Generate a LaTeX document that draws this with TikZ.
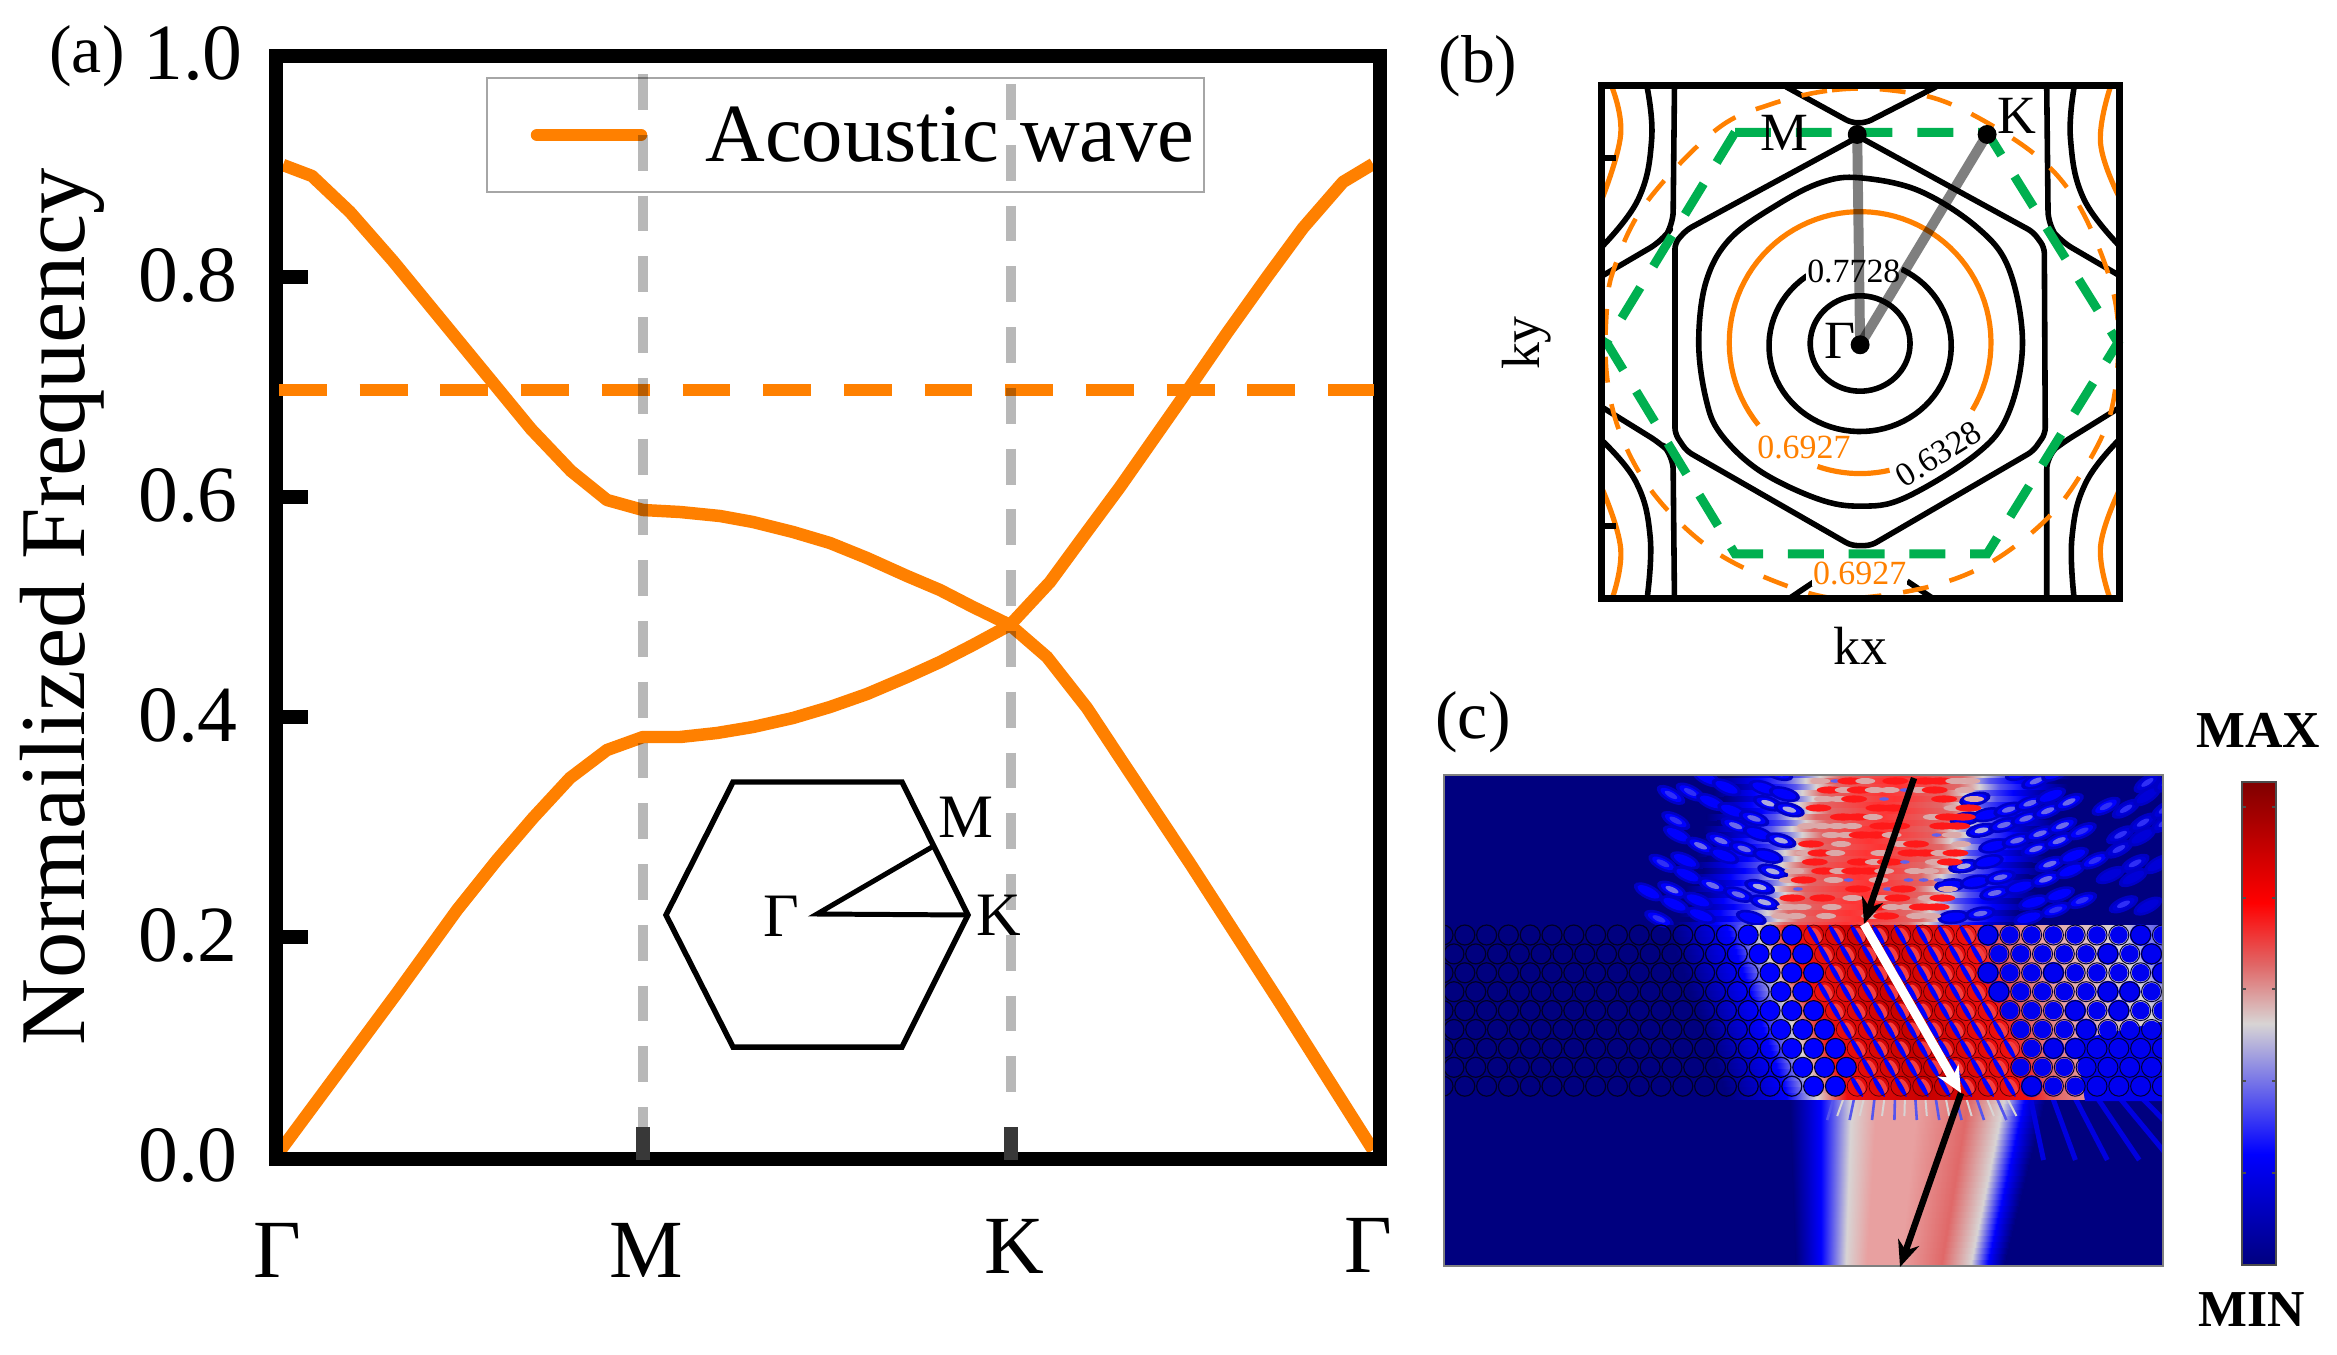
\documentclass[tikz,border=0pt]{standalone}
\usepackage{fontspec}
\setmainfont{Liberation Serif}
\usetikzlibrary{arrows.meta}
\newcommand{\fsz}[1]{\fontsize{#1}{#1}\selectfont}
\definecolor{orng}{HTML}{FF8000}
\definecolor{grn}{HTML}{00B050}
\definecolor{navyb}{HTML}{00007F}
\definecolor{blu}{HTML}{0000FF}
\definecolor{lgray}{HTML}{D8D4D4}
\definecolor{pnk}{HTML}{E8A0A0}
\definecolor{pnkb}{HTML}{E06868}
\definecolor{rd}{HTML}{F01010}
\definecolor{drd}{HTML}{C80000}
\pgfdeclarehorizontalshading{topbeam}{100bp}{color(0bp)=(navyb);color(25bp)=(navyb);color(31bp)=(blu);color(35bp)=(blu!60!lgray);color(38bp)=(lgray);color(41bp)=(pnkb);color(50bp)=(red!80!white);color(59bp)=(pnkb);color(62bp)=(lgray);color(65bp)=(blu!60!lgray);color(69bp)=(blu);color(75bp)=(navyb);color(100bp)=(navyb)}
\pgfdeclarehorizontalshading{lowbeam}{100bp}{color(0bp)=(navyb);color(25bp)=(navyb);color(31bp)=(blu);color(37bp)=(lgray);color(42bp)=(pnk);color(50bp)=(pnk);color(60bp)=(pnkb);color(67bp)=(lgray);color(71bp)=(blu);color(75bp)=(navyb);color(100bp)=(navyb)}
\pgfdeclarehorizontalshading{latbeam}{100bp}{color(0bp)=(navyb);color(25bp)=(navyb);color(31bp)=(blu);color(34bp)=(lgray);color(37bp)=(rd);color(45bp)=(drd);color(55bp)=(rd);color(58bp)=(pnkb);color(62bp)=(pnk);color(70bp)=(lgray);color(75bp)=(blu!70!lgray);color(100bp)=(blu!70!lgray)}
\pgfdeclareverticalshading{cbar}{100bp}{color(0bp)=(navyb);color(25bp)=(navyb);color(36.5bp)=(blu);color(44bp)=(blu!45!lgray);color(50bp)=(lgray);color(56bp)=(pnkb);color(62.5bp)=(red);color(68bp)=(drd);color(75bp)=(red!50!black);color(100bp)=(red!50!black)}
\tikzset{
 frameline/.style={line width=14.5,black,line join=miter},
 curve/.style={orng,line width=12.5,line join=round},
 vdash/.style={black,opacity=.28,line width=10.5,dash pattern=on 36 off 25},
 hdash/.style={orng,line width=13,dash pattern=on 48 off 33},
 tickm/.style={black,line width=14},
 bticks/.style={black!78,line width=14},
 inset/.style={black,line width=5.5,line join=miter},
 cont/.style={black,line width=5.6,line join=round},
 ocont/.style={orng,line width=5.2},
 odash/.style={orng,line width=4.6,dash pattern=on 26 off 22},
 gdash/.style={grn,line width=9,dash pattern=on 36 off 25},
 gpath/.style={black,opacity=.5,line width=10},
 dotb/.style={circle,fill=black,inner sep=0,minimum size=19},
 lab/.style={inner sep=0,outer sep=0},
 arb/.style={black,line width=6.5,-{Stealth[length=26,width=22]}},
 arw/.style={white,line width=9,-{Stealth[length=26,width=24]}},
}
\begin{document}
\begin{tikzpicture}[x=1bp,y=-1bp]
\useasboundingbox (0,0) rectangle (2337,1355);
\fill[white] (0,0) rectangle (2337,1355);
% ---------- panel a
\draw[gray!70,line width=1.5] (487,78) rectangle (1204,192);
\draw[curve,line cap=round] (537,135) -- (641,135);
\node[lab,anchor=base] (legtxt) at (950,162) {\fsz{83}Acoustic wave};
\draw[curve] plot coordinates {(283,165)(312,176)(350,212)(393,261)(531,429)(571,471)(607,500)(643,510)(680,512)(720,516)(753,522)(793,532)(830,543)(867,558)(907,576)(940,590)(973,607)(1010,625)(1047,657)(1087,708)(1120,758)(1191,865)(1280,1003)(1373,1150)};
\draw[curve] plot coordinates {(280,1151)(397,993)(457,910)(497,860)(533,818)(570,778)(607,750)(643,737)(680,737)(717,733)(753,727)(793,718)(830,707)(867,694)(907,677)(940,662)(973,645)(1010,625)(1050,582)(1083,537)(1120,487)(1183,397)(1227,333)(1267,277)(1303,228)(1343,182)(1373,164)};
\draw[frameline] (276,56) rectangle (1380,1159);
\foreach \yy in {277,497,717,937} \draw[tickm] (276,\yy) -- (308,\yy);
\draw[hdash] (279,390) -- (1374,390);
\coordinate (mtop) at (643,74); \coordinate (mbot) at (643,1127);
\coordinate (ktop) at (1011,84); \coordinate (kbot) at (1011,1097);
\draw[vdash] (mtop) -- (mbot);
\draw[vdash] (ktop) -- (kbot);
\draw[bticks] (643,1127) -- (643,1160);
\draw[bticks] (1011,1127) -- (1011,1160);
\node[lab] (t10) at (193,54) {\fsz{80}1.0};
\node[lab] (t08) at (188,276) {\fsz{80}0.8};
\node[lab] (t06) at (188,496) {\fsz{80}0.6};
\node[lab] (t04) at (188,716) {\fsz{80}0.4};
\node[lab] (t02) at (188,936) {\fsz{80}0.2};
\node[lab] (t00) at (188,1156) {\fsz{80}0.0};
\node[lab] (pa) at (87,56) {\fsz{68}(a)};
\node[lab,rotate=90,anchor=base] (ylab) at (84,607) {\fsz{93}Normailized Frequency};
\node[lab] (gl) at (277,1250) {\fsz{83}Γ};
\node[lab] (ml) at (646,1250) {\fsz{83}M};
\node[lab] (kl) at (1014,1246) {\fsz{83}K};
\node[lab] (gr) at (1368,1245) {\fsz{83}Γ};
% inset
\draw[inset] (733,782) -- (902,782) -- (968,915) -- (902,1047) -- (733,1047) -- (666,915) -- cycle;
\coordinate (ig) at (817,914); \coordinate (im) at (932,847); \coordinate (ik) at (968,915);
\draw[inset,line width=5] (im) -- (ig) -- (ik);
\node[lab] (ilg) at (781,916) {\fsz{62}Γ};
\node[lab] (ilm) at (966,817) {\fsz{62}M};
\node[lab] (ilk) at (999,915) {\fsz{62}K};
% ---------- panel b
\begin{scope}[shift={(1420,0)},x=0.4847bp,y=-0.4337bp]
\begin{scope}
\clip (375,198) rectangle (1443,1380);
\draw[cont] plot[domain=0:360,samples=72] ({908+103*cos(\x)},{792+110*sin(\x)});
\draw[cont] plot[domain=118:423,samples=72] ({908+188*cos(\x)},{797-198*sin(\x)});
\draw[ocont] plot[domain=-31:219,samples=72] ({908+270*cos(\x)},{790-302*sin(\x)});
\draw[ocont] plot[domain=251:283,samples=12] ({908+270*cos(\x)},{790-302*sin(\x)});
\draw[cont] plot[smooth cycle,tension=.6] coordinates {(908,410)(1030,440)(1150,525)(1215,620)(1243,790)(1215,950)(1150,1045)(1000,1148)(908,1167)(820,1150)(700,1085)(620,1000)(590,920)(575,790)(590,650)(640,550)(740,470)(830,420)};
\draw[cont,rounded corners=6] (905,315) -- (1265,535) -- (1288,570) -- (1290,1000) -- (1265,1040) -- (930,1258) -- (890,1258) -- (550,1040) -- (526,1000) -- (526,560) -- (550,530) -- cycle;
\draw[cont,rounded corners=6] (755,200) -- (890,283) -- (920,283) -- (1065,200);
\draw[cont,rounded corners=14] (1293,200) -- (1296,520) -- (1320,555) -- (1450,640);
\draw[cont,rounded corners=14] (1293,1385) -- (1293,1050) -- (1320,1025) -- (1450,935);
\draw[cont,rounded corners=14] (525,200) -- (522,520) -- (500,555) -- (370,640);
\draw[cont,rounded corners=14] (525,1385) -- (522,1050) -- (500,1025) -- (370,935);
\draw[cont] plot[smooth,tension=.7] coordinates {(468,198)(478,320)(450,460)(370,575)};
\draw[cont] plot[smooth,tension=.7] coordinates {(1350,198)(1342,320)(1370,460)(1450,575)};
\draw[cont] plot[smooth,tension=.7] coordinates {(468,1385)(475,1240)(445,1110)(370,1010)};
\draw[cont] plot[smooth,tension=.7] coordinates {(1350,1385)(1345,1240)(1375,1110)(1450,1005)};
\draw[ocont] plot[smooth,tension=.7] coordinates {(395,198)(414,310)(375,460)};
\draw[ocont] plot[smooth,tension=.7] coordinates {(1425,198)(1404,330)(1445,460)};
\draw[ocont] plot[smooth,tension=.7] coordinates {(375,1125)(414,1265)(395,1385)};
\draw[ocont] plot[smooth,tension=.7] coordinates {(1445,1125)(1404,1260)(1425,1385)};
\draw[cont] (755,1385) -- (815,1340);
\draw[cont] (1005,1340) -- (1065,1385);
\draw[odash] plot[smooth cycle,tension=.6] coordinates {(725,240)(850,208)(970,208)(1095,240)(1250,340)(1340,440)(1400,570)(1435,700)(1440,830)(1420,970)(1360,1100)(1290,1200)(1180,1295)(1060,1350)(910,1378)(810,1370)(660,1305)(560,1230)(470,1120)(410,990)(385,860)(385,720)(400,620)(465,470)(610,300)};
\end{scope}
\node[lab,fill=white,inner sep=1] (c1) at (895,625) {\fsz{34}0.7728};
\node[lab,fill=white,inner sep=1,text=orng] (c2) at (792,1032) {\fsz{34}0.6927};
\node[lab,fill=white,inner sep=1,rotate=32] (c3) at (1070,1047) {\fsz{34}0.6328};
\node[lab,fill=white,inner sep=1,text=orng] (c4) at (907,1322) {\fsz{34}0.6927};
\draw[gdash] (650,305) -- (1170,305) -- (1440,790) -- (1170,1277) -- (650,1277) -- (385,790) -- cycle;
\node[dotb] (gam) at (908,795) {};
\node[dotb] (mpt) at (902,310) {};
\node[dotb] (kpt) at (1170,310) {};
\draw[gpath] (gam.center) -- (mpt.center);
\draw[gpath] (gam.center) -- (kpt.center);
\node[lab] (bm) at (752,307) {\fsz{54}M};
\node[lab] (bk) at (1232,268) {\fsz{54}K};
\node[lab] (bg) at (866,785) {\fsz{54}Γ};
\draw[black,line width=7,line join=miter] (375,198) rectangle (1443,1380);
\draw[black,line width=6] (380,365) -- (405,365);
\draw[black,line width=6] (380,1212) -- (405,1212);
\end{scope}
\node[lab] (pb) at (1478,66) {\fsz{68}(b)};
\node[lab] (kx) at (1860,646) {\fsz{54}kx};
\node[lab,rotate=90] (ky) at (1527,343) {\fsz{54}ky};
% ---------- panel c
\fill[navyb] (1444,775) rectangle (2163,1266);
\begin{scope}
\clip (1444,775) rectangle (2163,1266);
% upper beam
\foreach \yy in {772,778,...,926}{
 \pgfmathsetmacro{\cc}{1894-(\yy-775)*.29+7*sin(mod(\yy,12)*30)}
 \shade[shading=topbeam] ({\cc-170},\yy) rectangle ({\cc+170},{\yy+6.5});
}
% side lobes
\pgfmathsetseed{7}
\foreach \R [count=\ri] in {360,376,...,660}{
 \foreach \a in {-48,-45,...,48}{
  \pgfmathsetmacro{\bx}{1890+\R*sin(\a)+(mod(\ri,2)*9)}
  \pgfmathsetmacro{\by}{400+\R*cos(\a)}
  \pgfmathsetmacro{\cc}{1894-(\by-775)*.29}
  \pgfmathsetmacro{\dd}{\bx-\cc}
  \pgfmathsetmacro{\ok}{(\by<920)&&(\by>770)&&(\dd>78)&&(\dd<330)?1:(((\by<920)&&(\by>770)&&(\dd<-78)&&(\dd>-230))?1:0)}
  \pgfmathsetmacro{\rr}{rnd}
  \ifdim\ok pt>0.5pt
   \ifdim\rr pt>0.3pt
    \pgfmathsetmacro{\kw}{abs(\dd)<230?100:70}
    \fill[blu!55!navyb,rotate around={\a:(\bx,\by)}] (\bx,\by) ellipse [x radius=16,y radius=7];
    \fill[blu!\kw!navyb,rotate around={\a:(\bx,\by)}] (\bx,\by) ellipse [x radius=12,y radius=4.5];
    \ifdim\rr pt>0.6pt
     \pgfmathsetmacro{\ww}{abs(\dd)<120?80:(abs(\dd)<190?50:22)}
     \fill[lgray!\ww!blu,rotate around={\a:(\bx,\by)}] (\bx,\by) ellipse [x radius=7,y radius=2.6];
    \fi
   \fi
  \fi
 }
}
% core mottling
\pgfmathsetseed{11}
\foreach \yy in {781,790,...,920}{
 \foreach \k in {-5,...,5}{
  \pgfmathsetmacro{\cc}{1894-(\yy-775)*.29+\k*15+mod(\yy,5)*3}
  \pgfmathsetmacro{\rr}{rnd}
  \ifdim\rr pt>0.88pt
   \fill[blu!55!lgray] (\cc,\yy) ellipse [x radius=5,y radius=1.8];
  \else\ifdim\rr pt>0.6pt
   \fill[lgray!60!pnkb] (\cc,\yy) ellipse [x radius=10,y radius=3];
  \else\ifdim\rr pt>0.3pt
   \fill[red!90!white] (\cc,\yy) ellipse [x radius=13,y radius=3.6];
  \fi\fi\fi
 }
}
% lower beam
\foreach \yy in {1092,1098,...,1266}{
 \pgfmathsetmacro{\tfrac}{(\yy-1096)/170}
 \shade[shading=lowbeam] ({1790+6*\tfrac},\yy) rectangle ({2045-42*\tfrac},{\yy+6.5});
}
% radiating streaks below the lattice
\foreach \xx in {1835,1855,...,2005}{
 \draw[blu!60!lgray,line width=2.6] (\xx,1094) -- ({\xx+(\xx-1900)*.12},1120);
 \draw[lgray,line width=2] ({\xx+10},1094) -- ({\xx+10+(\xx-1900)*.12},1116);
}
\foreach \xx in {2030,2052,...,2150}{
 \draw[blu!75!navyb,line width=5] (\xx,1096) -- ({\xx+(\xx-2000)*.45},1160);
}
% lattice band
\foreach \yy in {925,931,...,1094}{
 \pgfmathsetmacro{\ee}{1793+(\yy-927)*.354}
 \shade[shading=latbeam] ({\ee-125},\yy) rectangle ({\ee+375},{\yy+6.5});
}
\fill[blu!85!navyb] (2075,1040) -- (2170,1020) -- (2170,1101) -- (2085,1101) -- cycle;
\pgfmathsetseed{5}
\foreach \rw in {0,...,8}{
 \foreach \n in {-15,...,18}{
  \pgfmathsetmacro{\cx}{1770+21.8*\n-mod(\rw,2)*10.9}
  \pgfmathsetmacro{\cy}{935+18.9*\rw}
  \pgfmathsetmacro{\uu}{\cx-(1793+(\cy-927)*.354)}
  \pgfmathsetmacro{\rr}{rnd}
  \ifdim\uu pt<-55pt
   \draw[black!70!navyb,line width=1.2] (\cx,\cy) circle (10);
  \else\ifdim\uu pt<5pt
   \fill[blu] (\cx,\cy) circle (9.7);
   \draw[black!70!navyb,line width=1.1] (\cx,\cy) circle (10);
  \else\ifdim\uu pt<178pt
   \fill[lgray!30!red,rotate around={-60:(\cx,\cy)}] ({\cx+1.5},{\cy-2.5}) ellipse [x radius=8,y radius=4];
   \fill[blu,rotate around={-60:(\cx,\cy)}] ({\cx},{\cy+.5}) ellipse [x radius=12,y radius=2.4];
   \draw[black!55!drd,line width=.7] (\cx,\cy) circle (10);
  \else
   \pgfmathsetmacro{\rb}{\rr>.72?10.9:8.8}
   \fill[blu!88!navyb] (\cx,\cy) circle (\rb);
   \draw[black!60!navyb,line width=1] (\cx,\cy) circle (10);
  \fi\fi\fi
 }
}
\end{scope}
\draw[gray,line width=1.5] (1444,775) rectangle (2163,1266);
\coordinate (a0) at (1914,778);
\coordinate (a1) at (1864,924);
\coordinate (a2) at (1961,1093);
\coordinate (a3) at (1900,1267);
\draw[arb] (a0) -- (a1);
\draw[arb] (a2) -- (a3);
\draw[arw] (a1) -- (a2);
% colour bar
\shade[shading=cbar] (2242,782) rectangle (2276,1265);
\draw[black!70,line width=1.5] (2242,782) rectangle (2276,1265);
\foreach \yy in {807,898,989,1081,1173}{
 \draw[black!70,line width=1.3] (2242,\yy) -- (2246,\yy);
 \draw[black!70,line width=1.3] (2272,\yy) -- (2276,\yy);
}
\node[lab] (pc) at (1473,722) {\fsz{68}(c)};
\node[lab] (mx) at (2258,730) {\fsz{52}\bfseries MAX};
\node[lab] (mn) at (2252,1310) {\fsz{52}\bfseries MIN};
\end{tikzpicture}
\end{document}
